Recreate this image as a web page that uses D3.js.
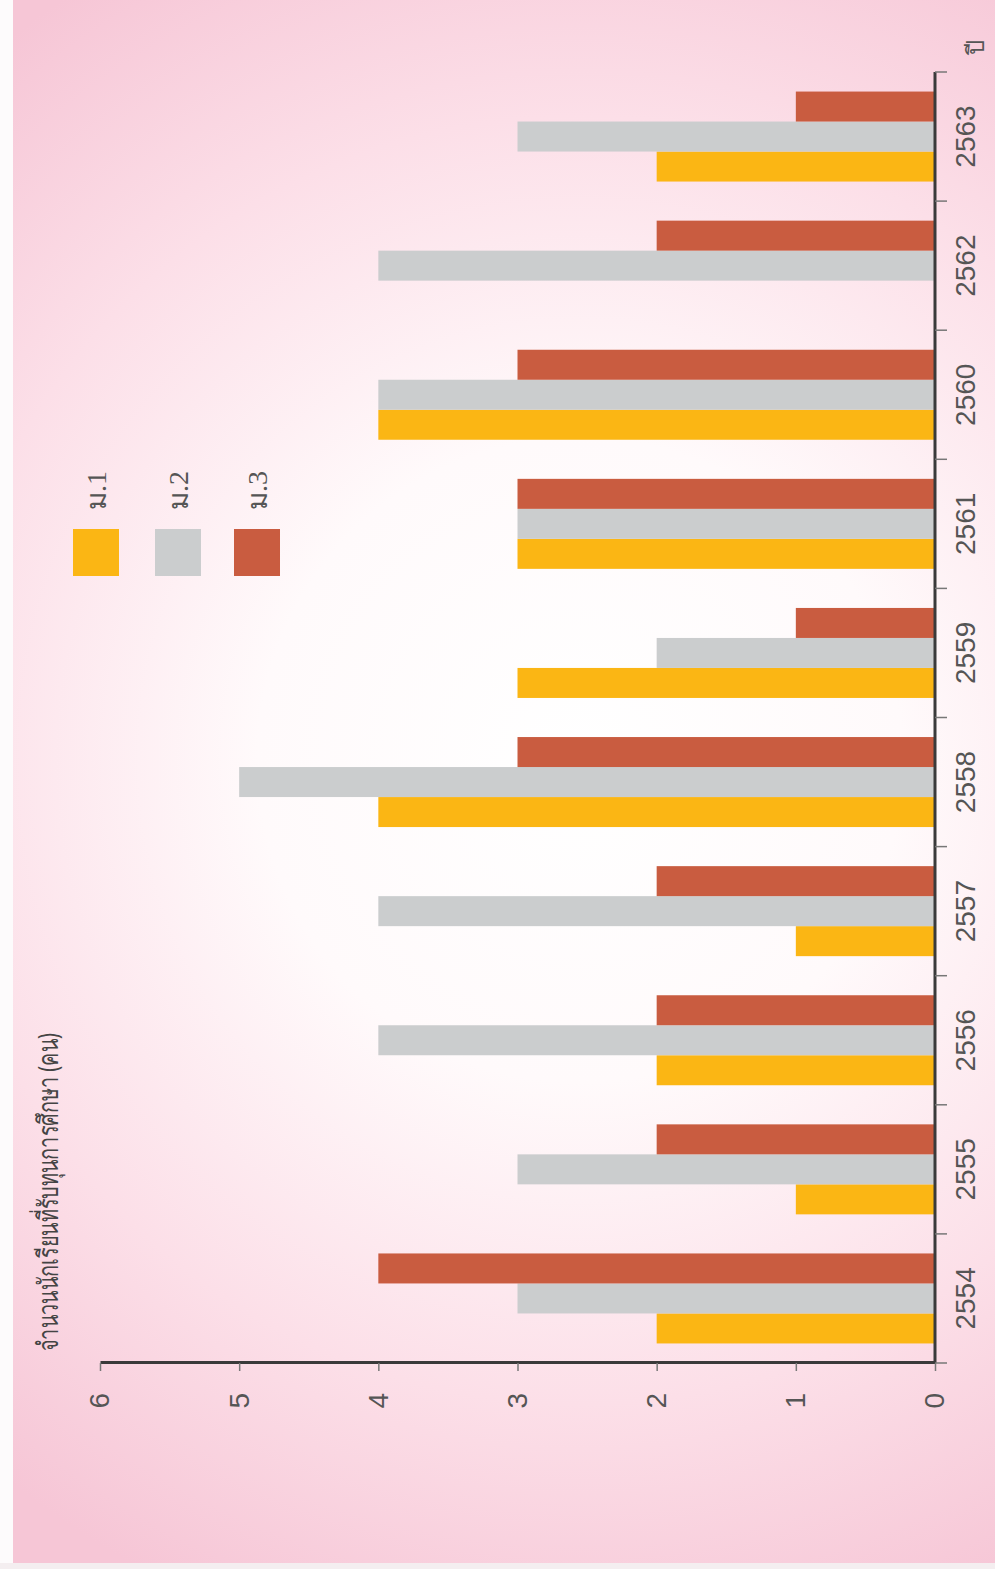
<!DOCTYPE html>
<html><head><meta charset="utf-8">
<script src="https://cdn.jsdelivr.net/npm/d3@7"></script>
<style>
html,body{margin:0;padding:0;background:#fff;}
svg{display:block;}
</style></head>
<body>
<svg id="chart" width="995" height="1569"></svg>
<script>
const categories = ["2554","2555","2556","2557","2558","2559","2561","2560","2562","2563"];
const seriesNames = ["ม.1","ม.2","ม.3"];
const m1 = [2,1,2,1,4,3,3,4,0,2];
const m2 = [3,3,4,4,5,2,3,4,4,3];
const m3 = [4,2,2,2,3,1,3,3,2,1];
const valueTicks = [0,1,2,3,4,5,6];
const titleText = "จำนวนนักเรียนที่รับทุนการศึกษา (คน)";
const xAxisTitle = "ปี";
const colors = ["#fbb614","#cbcdce","#c95c40"];

const svg = d3.select("#chart");
const SW = 995, SH = 1569;

// background
const defs = svg.append("defs");
const rg = defs.append("radialGradient").attr("id","bg")
  .attr("gradientUnits","userSpaceOnUse")
  .attr("cx",580).attr("cy",760).attr("r",920);
rg.append("stop").attr("offset","0%").attr("stop-color","#ffffff");
rg.append("stop").attr("offset","35%").attr("stop-color","#fffafb");
rg.append("stop").attr("offset","70%").attr("stop-color","#fcdfe8");
rg.append("stop").attr("offset","100%").attr("stop-color","#f6c6d6");
svg.append("rect").attr("width",SW).attr("height",SH).attr("fill","url(#bg)");
svg.append("rect").attr("x",0).attr("y",0).attr("width",13).attr("height",SH).attr("fill","#fdfbfc");
svg.append("rect").attr("x",0).attr("y",SH-6).attr("width",SW).attr("height",6).attr("fill","#f4eef0");

// rotated frame: inner width = SH, inner height = SW
const g = svg.append("g").attr("transform",`translate(0,${SH}) rotate(-90)`);

const x0 = d3.scaleBand().domain(categories).range([206, 1497]).padding(0);
const bw = x0.bandwidth();
const groupW = 90;
const x1 = d3.scaleBand().domain(seriesNames).range([(bw-groupW)/2, (bw+groupW)/2]).padding(0);
const y = d3.scaleLinear().domain([0,6]).range([935,100]);

const data = [m1,m2,m3];

// bars
seriesNames.forEach((s,si)=>{
  g.append("g").selectAll("rect").data(categories.map((c,i)=>({c, v:data[si][i]})))
   .join("rect")
   .attr("x", d=>x0(d.c)+x1(s))
   .attr("y", d=>y(d.v))
   .attr("width", x1.bandwidth())
   .attr("height", d=>y(0)-y(d.v))
   .attr("fill", colors[si]);
});

// value axis (left in inner frame)
const yAxis = d3.axisLeft(y).tickValues(valueTicks).tickFormat(d3.format("d")).tickSize(8).tickSizeOuter(0).tickPadding(22);
const ya = g.append("g").attr("transform","translate(206,0)").call(yAxis);
ya.select(".domain").attr("stroke","#3a3a3a").attr("stroke-width",3);
ya.selectAll(".tick line").attr("stroke","#777").attr("stroke-width",1.5);
ya.selectAll(".tick text").attr("fill","#555").style("font-family","'Liberation Sans', Arial, sans-serif").style("font-size","28px");

// category axis (bottom in inner frame)
const xAxis = d3.axisBottom(x0).tickSize(0).tickPadding(20);
const xa = g.append("g").attr("transform","translate(0,935)").call(xAxis);
xa.select(".domain").remove();
xa.selectAll(".tick text").attr("fill","#555").style("font-family","'Liberation Sans', Arial, sans-serif").style("font-size","28px");
const xr = x0.range();
xa.append("line").attr("x1",xr[0]).attr("x2",xr[1]).attr("y1",0).attr("y2",0).attr("stroke","#3a3a3a").attr("stroke-width",3);
const bounds = categories.map(c=>x0(c)).concat([xr[1]]);
xa.selectAll(".btick").data(bounds).join("line").attr("class","btick")
  .attr("x1",d=>d).attr("x2",d=>d).attr("y1",0).attr("y2",12)
  .attr("stroke","#777").attr("stroke-width",1.5);

// x-axis title "ปี"
g.append("text").attr("x",1514).attr("y",984).text(xAxisTitle)
  .attr("fill","#555").style("font-family","'Noto Sans', 'Liberation Serif', serif").style("font-size","24px");

// title
g.append("text").attr("x",218).attr("y",58).text(titleText)
  .attr("textLength",318).attr("lengthAdjust","spacingAndGlyphs")
  .attr("fill","#444").style("font-family","'Noto Sans', 'DejaVu Sans', sans-serif").style("font-size","28px");

// legend
const lg = g.append("g");
seriesNames.forEach((s,i)=>{
  const vy = [73,155,234][i];
  lg.append("rect").attr("x",993).attr("y",vy).attr("width",47).attr("height",46).attr("fill",colors[i]);
  lg.append("text").attr("x",1059).attr("y",vy+33).text(s)
    .attr("fill","#555").style("font-family","'Liberation Serif', 'Noto Sans', serif").style("font-size","28px");
});
</script>
</body></html>
